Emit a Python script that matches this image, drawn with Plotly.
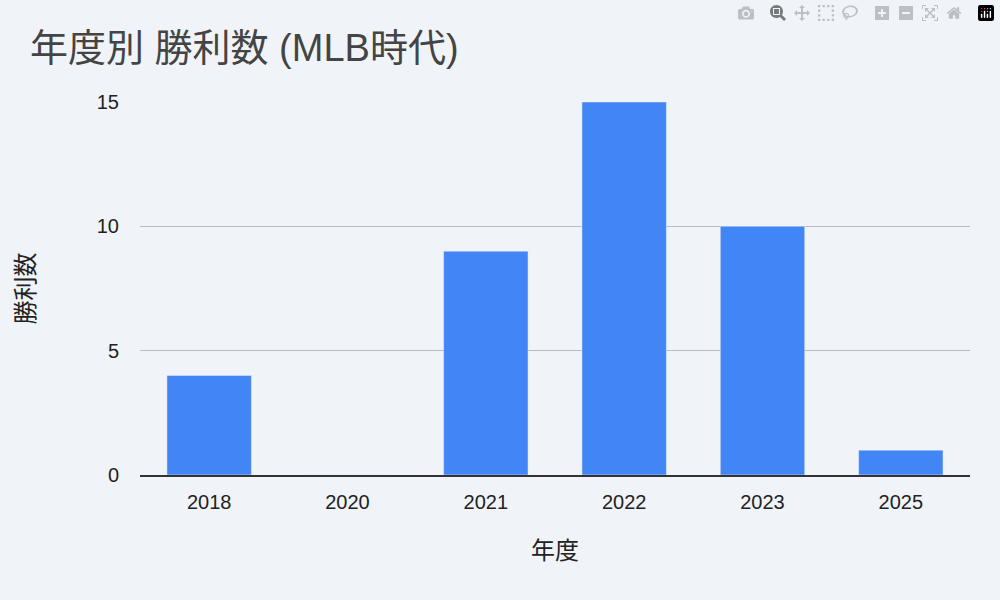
import plotly.graph_objects as go

# 年度ごとの勝利数
years = ['2018', '2020', '2021', '2022', '2023', '2025']
wins = [4, 0, 9, 15, 10, 1]

bg = '#f0f4f9'
fnt = 'Liberation Sans, Noto Sans CJK JP'

fig = go.Figure(go.Bar(x=years, y=wins, marker_color='#4285f4'))

fig.update_layout(
    width=1000, height=600,
    paper_bgcolor=bg, plot_bgcolor=bg,
    font=dict(family=fnt, size=20, color='#222'),
    title=dict(text='年度別 勝利数 (MLB時代)', x=0.03, xanchor='left', y=0.92, yanchor='middle',
               font=dict(size=38, color='#444', family=fnt)),
    margin=dict(l=140, r=30, t=102, b=125),
    bargap=0.39,
    showlegend=False,
)
fig.update_xaxes(type='category', title=dict(text='年度', standoff=30), showgrid=False,
                 showline=True, linecolor='#333', linewidth=1.5, ticks='', ticklabelstandoff=8)
fig.update_yaxes(range=[0, 15], tickvals=[0, 5, 10, 15], title=dict(text='勝利数', standoff=55),
                 gridcolor='#b8bcc2', zeroline=False, ticklabelstandoff=20)

fig.write_html('out.html', post_script="document.body.style.margin='0';")
